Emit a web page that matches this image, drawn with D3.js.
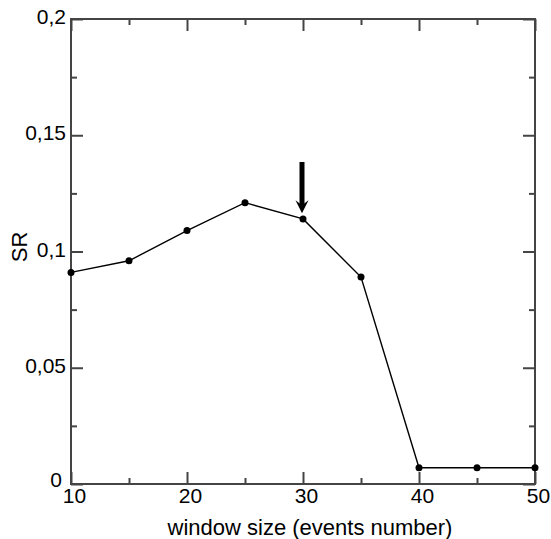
<!DOCTYPE html>
<html>
<head>
<meta charset="utf-8">
<script src="https://cdn.jsdelivr.net/npm/d3@7"></script>
<style>
  body { margin: 0; background: #fff; }
  text { font-family: "Liberation Sans", Arial, sans-serif; fill: #000; }
</style>
</head>
<body>
<svg id="chart" width="551" height="539"></svg>
<script>
// data
const windowSize = [10, 15, 20, 25, 30, 35, 40, 45, 50];
const srValues = [0.091, 0.096, 0.109, 0.121, 0.114, 0.089, 0.007, 0.007, 0.007];

// ticks
const xTicks = [10, 20, 30, 40, 50];
const xTickLabels = ["10", "20", "30", "40", "50"];
const xMinor = [15, 25, 35, 45];
const yTicks = [0, 0.05, 0.1, 0.15, 0.2];
const yTickLabels = ["0", "0,05", "0,1", "0,15", "0,2"];
const yMinor = [0.025, 0.075, 0.125, 0.175];

// arrow pointing at the chosen window size
const arrowX = 30;
const arrowFrom = 0.1385;
const arrowTo = 0.1165;

// set dimensions
const plotLeft = 71, plotRight = 535, plotTop = 19, plotBottom = 484;
const majorLen = 12, minorLen = 6;
const frameColor = "#444";

let svg = d3.select("#chart");

const x = d3.scaleLinear().domain([10, 50]).range([plotLeft, plotRight]);
const y = d3.scaleLinear().domain([0, 0.2]).range([plotBottom, plotTop]);

// helper to add an axis with inward ticks
function addAxis(axisFn, scale, ticks, len, tx, ty, labels) {
  const ax = axisFn(scale)
    .tickValues(ticks)
    .tickSize(-len)
    .tickSizeOuter(0)
    .tickFormat(labels ? (d, i) => labels[i] : "");
  const g = svg.append("g")
    .attr("transform", "translate(" + tx + "," + ty + ")")
    .call(ax);
  g.select(".domain").remove();
  g.selectAll(".tick line").attr("stroke", frameColor).attr("stroke-width", 2);
  return g;
}

// bottom / top
const xAxisG = addAxis(d3.axisBottom, x, xTicks, majorLen, 0, plotBottom, xTickLabels);
xAxisG.selectAll(".tick text")
  .attr("font-size", 21)
  .attr("dx", 3)
  .attr("y", 4)
  .attr("fill", "#000");
addAxis(d3.axisBottom, x, xMinor, minorLen, 0, plotBottom);
addAxis(d3.axisTop, x, xTicks, majorLen, 0, plotTop);
addAxis(d3.axisTop, x, xMinor, minorLen, 0, plotTop);

// left / right
const yAxisG = addAxis(d3.axisLeft, y, yTicks, majorLen, plotLeft, 0, yTickLabels);
yAxisG.selectAll(".tick text")
  .attr("font-size", 21)
  .attr("x", (d, i) => i === 0 ? -9 : -5)   // zero sits a bit left, clear of "10"
  .attr("y", (d, i) => i === 0 ? -4 : -2)
  .attr("fill", "#000");
addAxis(d3.axisLeft, y, yMinor, minorLen, plotLeft, 0);
addAxis(d3.axisRight, y, yTicks, majorLen, plotRight, 0);
addAxis(d3.axisRight, y, yMinor, minorLen, plotRight, 0);

// frame
svg.append("rect")
  .attr("x", plotLeft)
  .attr("y", plotTop)
  .attr("width", plotRight - plotLeft)
  .attr("height", plotBottom - plotTop)
  .attr("fill", "none")
  .attr("stroke", frameColor)
  .attr("stroke-width", 2);

// line + points
const pts = windowSize.map((w, i) => [w, srValues[i]]);
svg.append("path")
  .datum(pts)
  .attr("fill", "none")
  .attr("stroke", "#000")
  .attr("stroke-width", 1.4)
  .attr("d", d3.line().x(d => x(d[0])).y(d => y(d[1])));

svg.selectAll("circle.pt")
  .data(pts)
  .enter()
  .append("circle")
  .attr("class", "pt")
  .attr("cx", d => x(d[0]))
  .attr("cy", d => y(d[1]))
  .attr("r", 3.5)
  .attr("fill", "#000");

// arrow
const ax0 = x(arrowX) - 1;
svg.append("line")
  .attr("x1", ax0).attr("x2", ax0)
  .attr("y1", y(arrowFrom)).attr("y2", y(arrowTo) - 8)
  .attr("stroke", "#000")
  .attr("stroke-width", 5);
svg.append("path")
  .attr("d", "M" + (ax0 - 6.5) + "," + (y(arrowTo) - 13) +
             " L" + ax0 + "," + (y(arrowTo) - 8) +
             " L" + (ax0 + 6.5) + "," + (y(arrowTo) - 13) +
             " L" + ax0 + "," + y(arrowTo) + " Z")
  .attr("fill", "#000");

// axis titles
svg.append("text")
  .attr("x", 310)
  .attr("y", 535)
  .attr("text-anchor", "middle")
  .attr("font-size", 22)
  .text("window size (events number)");

svg.append("text")
  .attr("transform", "translate(27,247) rotate(-90)")
  .attr("text-anchor", "middle")
  .attr("font-size", 22)
  .text("SR");
</script>
</body>
</html>
